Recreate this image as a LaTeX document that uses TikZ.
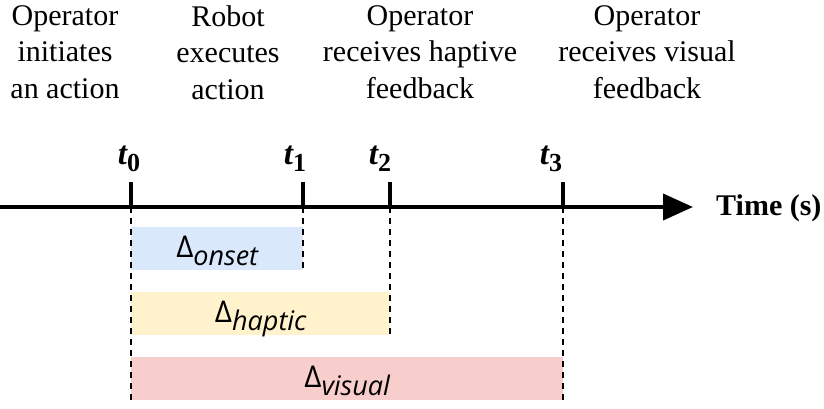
\documentclass[tikz,border=0pt]{standalone}
\usepackage{fontspec}
\setmainfont{Liberation Serif}
\newfontfamily\dfont{Open Sans}
\usetikzlibrary{arrows.meta}
\definecolor{bblue}{HTML}{DAE8FC}
\definecolor{byellow}{HTML}{FFF2CC}
\definecolor{bred}{HTML}{F8CECC}
\tikzset{
  toplabel/.style={align=center,anchor=north,inner sep=0pt,font=\fontsize{30}{36.5}\selectfont},
  tlabel/.style={anchor=base,inner sep=0pt,font=\fontsize{33}{36}\selectfont\bfseries},
  tickline/.style={line width=4pt},
  guide/.style={line width=1.8pt,dash pattern=on 6pt off 5pt},
  barbox/.style={rectangle,inner sep=0pt,draw=none,anchor=north west},
  dlabel/.style={inner sep=0pt,anchor=base,font=\dfont\fontsize{30}{34}\selectfont}
}
\newcommand{\tl}[1]{{\itshape t}\raisebox{-7pt}{\fontsize{26}{28}\selectfont\bfseries #1}}
\newcommand{\dsub}[1]{\raisebox{-8pt}{\fontsize{27}{30}\selectfont\itshape #1}}
\begin{document}
\begin{tikzpicture}[x=1pt,y=-1pt]
\useasboundingbox (0,0) rectangle (824,408);
% top labels
\node[toplabel] (l0) at (65,5) {Operator\\initiates\\an action};
\node[toplabel] (l1) at (228,5) {Robot\\executes\\action};
\node[toplabel] (l2) at (420,5) {Operator\\receives haptive\\feedback};
\node[toplabel] (l3) at (647,5) {Operator\\receives visual\\feedback};
% coordinates
\coordinate (a0) at (0,207);
\coordinate (a1) at (693,207);
\coordinate (T0) at (131,207); \coordinate (T0t) at (131,182); \coordinate (T0b) at (131,400);
\coordinate (T1) at (303,207); \coordinate (T1t) at (303,182); \coordinate (T1b) at (303,270);
\coordinate (T2) at (390,207); \coordinate (T2t) at (390,182); \coordinate (T2b) at (390,335);
\coordinate (T3) at (563,207); \coordinate (T3t) at (563,182); \coordinate (T3b) at (563,400);
% bars
\node[barbox,fill=bblue,minimum width=172pt,minimum height=43pt] (onset) at (131,227) {};
\node[barbox,fill=byellow,minimum width=259pt,minimum height=43pt] (haptic) at (131,292) {};
\node[barbox,fill=bred,minimum width=432pt,minimum height=43pt] (visual) at (131,357) {};
\node[dlabel] (donset) at ([yshift=-9pt]onset.center) {Δ\dsub{onset}};
\node[dlabel] (dhaptic) at ([yshift=-9pt]haptic.center) {Δ\dsub{haptic}};
\node[dlabel] (dvisual) at ([yshift=-9pt]visual.center) {Δ\dsub{visual}};
% axis
\draw[line width=4pt,-{Triangle[length=30pt,width=26pt]}] (a0) -- (a1);
\node[anchor=west,inner sep=0pt,font=\fontsize{30}{33}\selectfont\bfseries] (time) at (716,208) {Time (s)};
% ticks
\draw[tickline] (T0t) -- (T0);
\draw[tickline] (T1t) -- (T1);
\draw[tickline] (T2t) -- (T2);
\draw[tickline] (T3t) -- (T3);
% guides
\draw[guide] (T0) -- (T0b);
\draw[guide] (T1) -- (T1b);
\draw[guide] (T2) -- (T2b);
\draw[guide] (T3) -- (T3b);
% t labels
\node[tlabel] (t0) at (129,164) {\tl{0}};
\node[tlabel] (t1) at (295,164) {\tl{1}};
\node[tlabel] (t2) at (380,164) {\tl{2}};
\node[tlabel] (t3) at (551,164) {\tl{3}};
\end{tikzpicture}
\end{document}
